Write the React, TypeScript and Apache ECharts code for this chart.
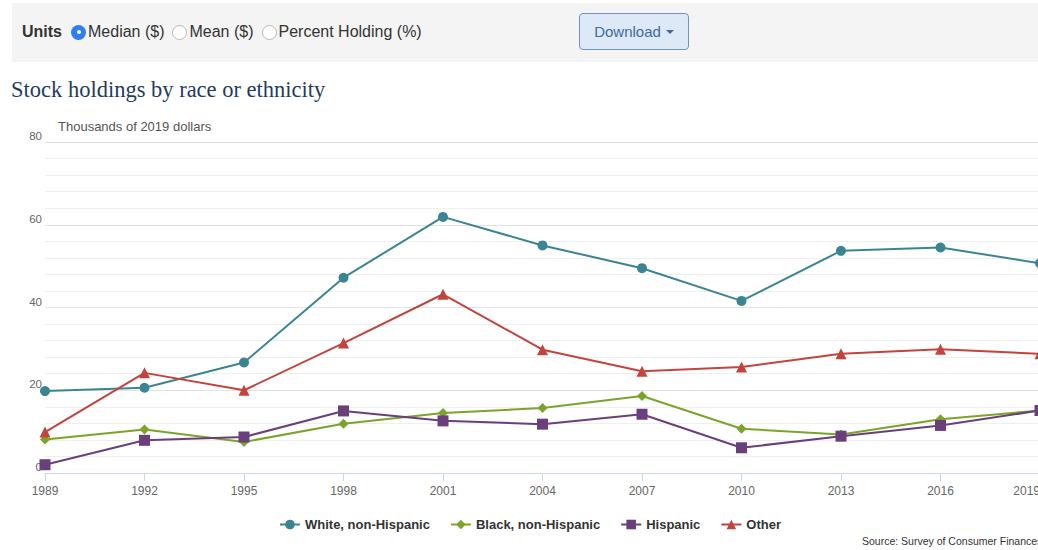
import React, { useEffect, useRef } from "react";
import * as echarts from "echarts";

const years = ["1989", "1992", "1995", "1998", "2001", "2004", "2007", "2010", "2013", "2016", "2019"];
const white = [19.8, 20.6, 26.7, 47.2, 61.9, 55.0, 49.5, 41.6, 53.7, 54.5, 50.7];
const black = [8.1, 10.5, 7.5, 11.9, 14.5, 15.7, 18.6, 10.7, 9.3, 13.0, 15.1];
const hispanic = [2.0, 7.9, 8.7, 15.0, 12.6, 11.8, 14.2, 6.1, 8.9, 11.5, 15.1];
const other = [9.9, 24.2, 20.0, 31.4, 43.2, 29.8, 24.6, 25.6, 28.8, 29.9, 28.8];

const seriesNames = ["White, non-Hispanic", "Black, non-Hispanic", "Hispanic", "Other"];
const seriesColors = ["#3b8592", "#7ba42a", "#6a3f7b", "#c2443d"];
const seriesSymbols = ["circle", "diamond", "rect", "triangle"];
const seriesSizes = [10, 10, 11, 11];
const seriesData = [white, black, hispanic, other];

const FONT = "'Liberation Sans', Arial, Helvetica, sans-serif";

function Radio({ checked, label }: { checked: boolean; label: string }) {
  return (
    <span style={{ display: "inline-flex", alignItems: "center", marginRight: 8 }}>
      <span
        style={{
          display: "inline-block",
          width: 15,
          height: 15,
          borderRadius: "50%",
          boxSizing: "border-box",
          background: checked ? "#2f7ef5" : "#fff",
          border: checked ? "none" : "1px solid #b8b8b8",
          position: "relative",
          marginRight: 2,
        }}
      >
        {checked && (
          <span
            style={{
              position: "absolute",
              left: 5.5,
              top: 5.5,
              width: 4,
              height: 4,
              borderRadius: "50%",
              background: "#fff",
            }}
          />
        )}
      </span>
      <span>{label}</span>
    </span>
  );
}

export default function App() {
  const ref = useRef<HTMLDivElement>(null);

  useEffect(() => {
    if (!ref.current) return;
    const chart = echarts.init(ref.current, null, { renderer: "svg" });
    chart.setOption({
      animation: false,
      textStyle: { fontFamily: FONT },
      grid: { left: 45, right: 20, top: 42, bottom: 77, containLabel: false },
      graphic: [
        {
          type: "text",
          left: 58,
          top: 20,
          style: { text: "Thousands of 2019 dollars", fill: "#555", font: `13px ${FONT}` },
        },
        {
          type: "text",
          left: 862,
          top: 435,
          style: { text: "Source: Survey of Consumer Finances", fill: "#333", font: `10.5px ${FONT}` },
        },
      ],
      legend: {
        bottom: 14,
        left: "center",
        itemGap: 20,
        itemWidth: 20,
        itemHeight: 12,
        textStyle: { fontWeight: "bold", fontSize: 13, color: "#333", fontFamily: FONT },
        data: seriesNames,
      },
      xAxis: {
        type: "category",
        data: years,
        boundaryGap: false,
        axisLine: { lineStyle: { color: "#ccd6eb", width: 1 } },
        axisTick: { show: true, length: 8, lineStyle: { color: "#ccd6eb" } },
        axisLabel: {
          color: "#666",
          fontSize: 12,
          margin: 12,
          fontFamily: FONT,
          alignMaxLabel: "right",
        },
        splitLine: { show: false },
      },
      yAxis: {
        type: "value",
        min: 0,
        max: 80,
        interval: 20,
        axisLine: { show: false },
        axisTick: { show: false },
        axisLabel: {
          color: "#666",
          fontSize: 11.5,
          margin: 3,
          verticalAlign: "bottom",
          fontFamily: FONT,
        },
        splitLine: { show: true, lineStyle: { color: "#e2e2e2", width: 1 } },
        minorTick: { show: false, splitNumber: 5 },
        minorSplitLine: { show: true, lineStyle: { color: "#efefef", width: 1 } },
      },
      series: seriesNames.map((name, i) => ({
        name,
        type: "line",
        data: seriesData[i],
        color: seriesColors[i],
        symbol: seriesSymbols[i],
        symbolSize: seriesSizes[i],
        showAllSymbol: true,
        lineStyle: { width: 2, color: seriesColors[i] },
        itemStyle: { color: seriesColors[i] },
      })),
    });
    return () => chart.dispose();
  }, []);

  return (
    <div
      style={{
        position: "fixed",
        left: 0,
        top: 0,
        width: 1038,
        height: 550,
        overflow: "hidden",
        background: "#fff",
        fontFamily: FONT,
      }}
    >
      <div
        style={{
          position: "absolute",
          left: 12,
          top: 3,
          width: 1040,
          height: 59,
          background: "#f4f4f4",
        }}
      >
        <div
          style={{
            position: "absolute",
            left: 10,
            top: 20,
            fontSize: 16,
            color: "#333",
            display: "flex",
            alignItems: "center",
            whiteSpace: "nowrap",
          }}
        >
          <span style={{ fontWeight: "bold", marginRight: 9 }}>Units</span>
          <Radio checked label="Median ($)" />
          <Radio checked={false} label="Mean ($)" />
          <Radio checked={false} label="Percent Holding (%)" />
        </div>
        <div
          style={{
            position: "absolute",
            left: 567,
            top: 10,
            width: 110,
            height: 37,
            boxSizing: "border-box",
            border: "1px solid #7094bd",
            borderRadius: 4,
            background: "#dde9f7",
            color: "#3e6c9c",
            fontSize: 15,
            display: "flex",
            alignItems: "center",
            justifyContent: "center",
          }}
        >
          Download
          <span
            style={{
              display: "inline-block",
              marginLeft: 5,
              width: 0,
              height: 0,
              borderLeft: "4px solid transparent",
              borderRight: "4px solid transparent",
              borderTop: "4px solid #3e6c9c",
            }}
          />
        </div>
      </div>
      <div
        style={{
          position: "absolute",
          left: 11,
          top: 77,
          fontFamily: "'Liberation Serif', 'Times New Roman', serif",
          fontSize: 22.5,
          color: "#1f3c5e",
          whiteSpace: "nowrap",
        }}
      >
        Stock holdings by race or ethnicity
      </div>
      <div ref={ref} style={{ position: "absolute", left: 0, top: 100, width: 1060, height: 450 }} />
    </div>
  );
}
